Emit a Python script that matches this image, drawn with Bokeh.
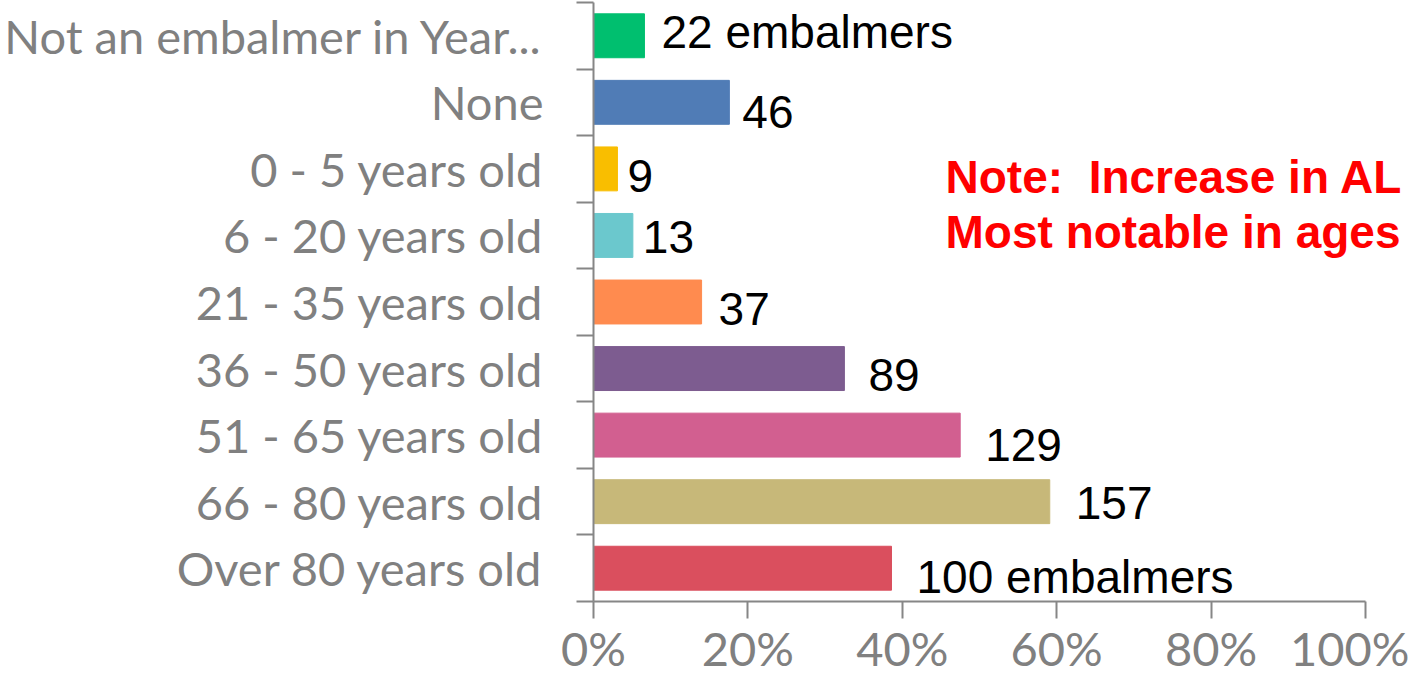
from bokeh.plotting import figure
from bokeh.models import Range1d, FixedTicker, PrintfTickFormatter, ColumnDataSource, Label
from bokeh.core.properties import value
from bokeh.embed import file_html
from bokeh.resources import INLINE

categories = ["Not an embalmer in Year...", "None", "0 - 5 years old", "6 - 20 years old",
              "21 - 35 years old", "36 - 50 years old", "51 - 65 years old",
              "66 - 80 years old", "Over 80 years old"]
percentages = [6.6, 17.6, 3.1, 5.1, 14.0, 32.5, 47.5, 59.1, 38.6]
bar_labels = ["22 embalmers", "46", "9", "13", "37", "89", "129", "157", "100 embalmers"]
colors = ["#00BF6F", "#507CB6", "#F9BE00", "#6BC8CD", "#FF8B4F",
          "#7D5C90", "#D25F90", "#C7B879", "#DA4F5E"]
x_ticks = [0, 20, 40, 60, 80, 100]
note_lines = ["Note:\u00a0 Increase in AL", "Most notable in ages"]

# label nudges in screen pixels (style only)
label_dx = [17, 13, 10, 10, 17, 24, 25, 26, 25]
label_dy = [-4, 10, 7, 2, 7, 6, 10, 1, 9]

n = len(categories)
ypos = [n - 1 - i + 0.5 for i in range(n)]

src = ColumnDataSource(dict(y=ypos, value=percentages, color=colors, label=bar_labels,
                            dx=label_dx, dy=label_dy))

GRAY = "#868686"
LABEL_GRAY = "#808080"

W, H = 1409, 678
LEFT = 593
PX_PER_100 = 772
x_end = 100 * (W - LEFT) / PX_PER_100

p = figure(width=W, height=H, x_range=Range1d(0, x_end), y_range=Range1d(0, n),
           output_backend="svg", toolbar_location=None,
           min_border_left=LEFT, min_border_right=0, min_border_top=2, min_border_bottom=74)
p.outline_line_color = None
p.xgrid.grid_line_color = None
p.ygrid.grid_line_color = None
p.background_fill_color = "white"
p.border_fill_color = "white"

p.hbar(y="y", right="value", left=0, height=0.66, color="color", source=src)

p.text(x="value", y="y", text="label", source=src, x_offset="dx", y_offset="dy",
       text_font=value("Liberation Sans"), text_font_size="46px",
       text_baseline="alphabetic", text_align="left", text_color="black")

# x axis
xa = p.xaxis[0]
xa.bounds = (0, 100)
xa.ticker = FixedTicker(ticks=x_ticks, minor_ticks=[])
xa.formatter = PrintfTickFormatter(format="%d%%")
xa.axis_line_color = GRAY
xa.axis_line_width = 2
xa.major_tick_line_color = GRAY
xa.major_tick_line_width = 2
xa.major_tick_in = 0
xa.major_tick_out = 17
xa.minor_tick_line_color = None
xa.major_label_text_font = "Lato"
xa.major_label_text_font_size = "47px"
xa.major_label_text_color = LABEL_GRAY
xa.major_label_standoff = 1

# y axis with category labels at centers and ticks at boundaries
ya = p.yaxis[0]
ya.ticker = FixedTicker(ticks=ypos, minor_ticks=list(range(n + 1)))
ya.major_label_overrides = {y: c for y, c in zip(ypos, categories)}
ya.axis_line_color = GRAY
ya.axis_line_width = 2
ya.major_tick_line_color = None
ya.major_tick_in = 0
ya.major_tick_out = 0
ya.minor_tick_line_color = GRAY
ya.minor_tick_line_width = 2
ya.minor_tick_in = 0
ya.minor_tick_out = 17
ya.major_label_text_font = "Lato"
ya.major_label_text_font_size = "47px"
ya.major_label_text_color = LABEL_GRAY
ya.major_label_standoff = 33

for txt, yy in zip(note_lines, [6.38, 5.55]):
    p.add_layout(Label(x=45.6, y=yy, text=txt, text_font="Liberation Sans",
                       text_font_style="bold", text_font_size="46px",
                       text_color="#FF0000", text_baseline="alphabetic"))

open("out.html", "w").write(file_html(p, INLINE))
